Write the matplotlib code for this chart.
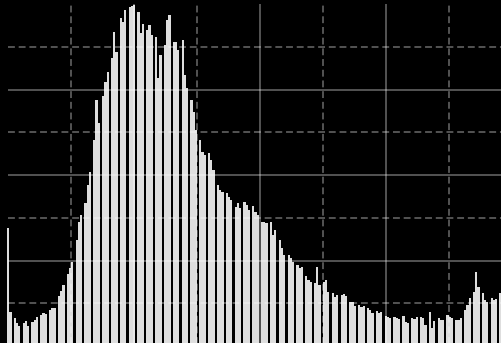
import numpy as np
import matplotlib
matplotlib.use('Agg')
import matplotlib.pyplot as plt

# luminance histogram, one value per bin (empty bins left as 0)
counts = [
    276, 80, 0, 65,
    54, 47, 0, 54,
    58, 47, 0, 56,
    61, 68, 0, 73,
    77, 75, 0, 84,
    89, 89, 0, 117,
    129, 143, 0, 168,
    182, 196, 0, 248,
    290, 306, 0, 334,
    377, 407, 0, 482,
    575, 522, 0, 585,
    617, 641, 0, 674,
    734, 688, 0, 767,
    758, 786, 0, 793,
    795, 798, 0, 781,
    732, 753, 0, 739,
    751, 727, 0, 723,
    627, 681, 0, 704,
    763, 774, 0, 711,
    711, 692, 0, 716,
    634, 603, 0, 575,
    547, 505, 0, 482,
    454, 447, 0, 451,
    435, 412, 0, 377,
    365, 360, 0, 358,
    349, 341, 0, 325,
    334, 323, 0, 337,
    330, 318, 0, 327,
    313, 306, 0, 290,
    290, 288, 0, 290,
    260, 271, 0, 248,
    229, 213, 0, 213,
    206, 196, 0, 189,
    182, 185, 0, 164,
    154, 150, 0, 147,
    185, 143, 0, 150,
    154, 126, 0, 124,
    115, 119, 0, 119,
    122, 117, 0, 103,
    103, 94, 0, 96,
    91, 94, 0, 89,
    84, 77, 0, 82,
    77, 80, 0, 70,
    68, 65, 0, 68,
    65, 63, 0, 70,
    56, 54, 0, 65,
    63, 68, 0, 68,
    65, 49, 0, 80,
    42, 58, 0, 65,
    61, 61, 0, 73,
    68, 65, 0, 61,
    61, 65, 0, 84,
    96, 112, 0, 126,
    173, 138, 0, 124,
    108, 103, 0, 112,
    108, 110, 0, 124,
]
y_max = 800
divisions = 8

W, H = 502, 343
fig = plt.figure(figsize=(W / 100, H / 100), dpi=100, facecolor='black')

# histogram bars
n = len(counts)
bin_px = 2.2075
ax = fig.add_axes([7.18 / W, -3 / H, n * bin_px / W, 342 / H])
ax.set_facecolor('black')
ax.bar(np.arange(n), counts, width=1.0, align='edge', color='#dedede', linewidth=0)
ax.set_xlim(0, n)
ax.set_ylim(0, y_max)
ax.axis('off')

# graticule on top: solid every second division, dashed in between
gr = fig.add_axes([8.5 / W, -3 / H, 504 / W, 342 / H])
gr.patch.set_visible(False)
gr.set_xlim(0, divisions)
gr.set_ylim(0, divisions)
gr.axis('off')
for k in range(1, divisions):
    ls = '-' if k % 2 == 0 else (0, (4.5, 2.5))
    gr.axvline(k, color='white', alpha=0.42, lw=1.1, ls=ls)
    gr.axhline(k, color='white', alpha=0.42, lw=1.1, ls=ls)

fig.savefig('out.png', dpi=100, facecolor='black')
